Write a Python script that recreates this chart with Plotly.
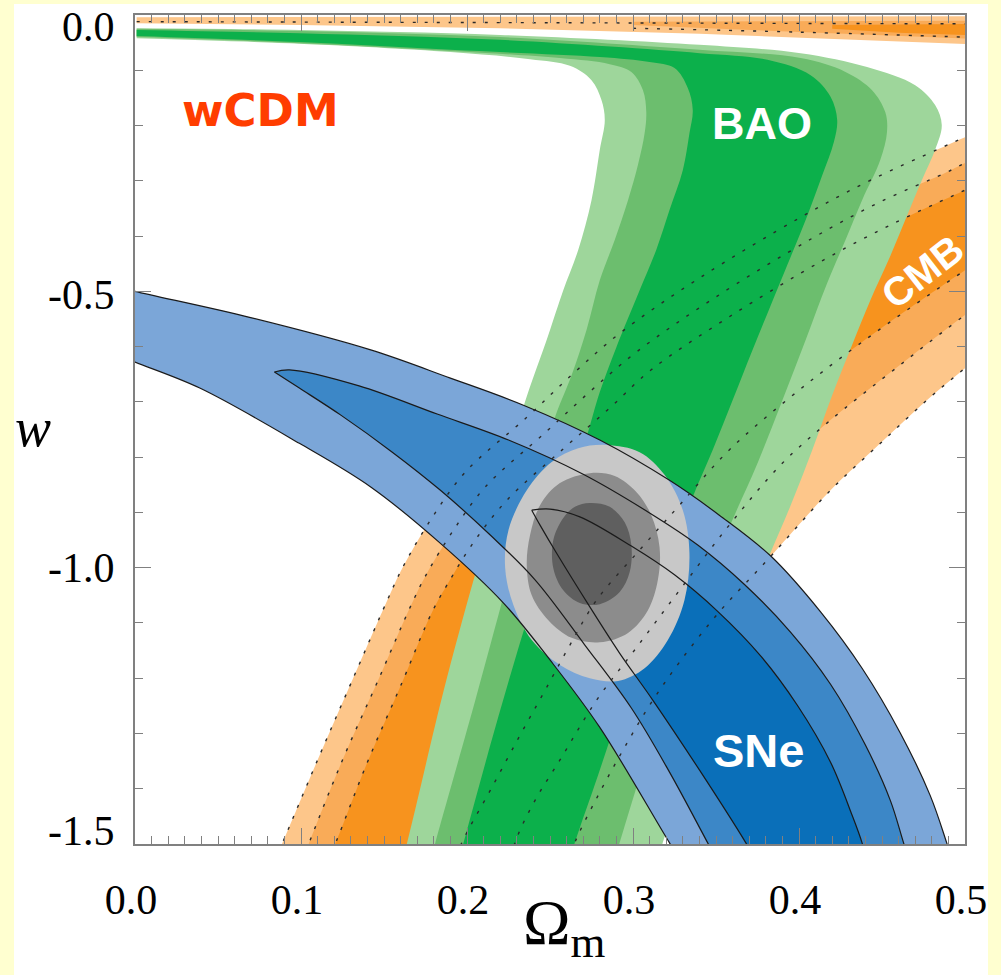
import plotly.graph_objects as go

# ---------------- tick values / labels ----------------
x_tick_vals = [0.0, 0.1, 0.2, 0.3, 0.4, 0.5]
x_tick_text = ["0.0", "0.1", "0.2", "0.3", "0.4", "0.5"]
y_tick_vals = [0.0, -0.5, -1.0, -1.5]
y_tick_text = ["0.0", "-0.5", "-1.0", "-1.5"]

# ---------------- CMB contour boundaries (Omega_m, w) ----------------
cmb_out_up_x = [0.078, 0.089, 0.110, 0.131, 0.152, 0.161, 0.178, 0.199, 0.236, 0.265, 0.292, 0.340, 0.401, 0.443, 0.483, 0.500, 0.521]
cmb_out_up_w = [-1.574, -1.497, -1.348, -1.203, -1.059, -1.001, -0.914, -0.827, -0.728, -0.646, -0.576, -0.476, -0.366, -0.299, -0.244, -0.221, -0.194]
cmb_mid_up_x = [0.095, 0.105, 0.125, 0.146, 0.166, 0.175, 0.191, 0.211, 0.247, 0.275, 0.302, 0.349, 0.408, 0.449, 0.488, 0.500, 0.521]
cmb_mid_up_w = [-1.574, -1.497, -1.348, -1.207, -1.070, -1.015, -0.936, -0.854, -0.756, -0.679, -0.610, -0.512, -0.404, -0.338, -0.286, -0.268, -0.241]
cmb_in_up_x = [0.110, 0.121, 0.140, 0.160, 0.179, 0.189, 0.204, 0.224, 0.258, 0.286, 0.311, 0.357, 0.415, 0.455, 0.492, 0.500, 0.521]
cmb_in_up_w = [-1.574, -1.497, -1.352, -1.214, -1.080, -1.026, -0.954, -0.878, -0.785, -0.711, -0.642, -0.548, -0.443, -0.380, -0.328, -0.317, -0.290]
cmb_in_dn_x = [0.521, 0.500, 0.437, 0.395, 0.358, 0.328, 0.304, 0.278, 0.262, 0.247, 0.232, 0.214, 0.197, 0.187]
cmb_in_dn_w = [-0.422, -0.462, -0.594, -0.691, -0.787, -0.887, -0.968, -1.059, -1.140, -1.222, -1.303, -1.403, -1.497, -1.574]
cmb_mid_dn_x = [0.521, 0.500, 0.461, 0.417, 0.389, 0.358, 0.328, 0.301, 0.278, 0.256, 0.241, 0.229, 0.223]
cmb_mid_dn_w = [-0.498, -0.543, -0.633, -0.738, -0.814, -0.923, -1.041, -1.149, -1.240, -1.348, -1.421, -1.497, -1.574]
cmb_out_dn_x = [0.521, 0.500, 0.477, 0.449, 0.419, 0.381, 0.352, 0.328, 0.310, 0.294, 0.279, 0.265, 0.256]
cmb_out_dn_w = [-0.588, -0.639, -0.697, -0.775, -0.860, -0.986, -1.080, -1.171, -1.249, -1.330, -1.412, -1.497, -1.574]

# thin CMB strip along w ~ 0
cmb_top1_x = [0.001, 0.52, 0.52, 0.431, 0.340, 0.220, 0.099, 0.001]
cmb_top1_w = [-0.004, -0.002, -0.055, -0.044, -0.034, -0.024, -0.018, -0.015]
cmb_top2_x = [0.30, 0.52, 0.52, 0.431, 0.36, 0.30]
cmb_top2_w = [-0.012, -0.010, -0.045, -0.035, -0.026, -0.018]
cmb_top3_x = [0.42, 0.52, 0.52, 0.46, 0.42]
cmb_top3_w = [-0.018, -0.016, -0.038, -0.032, -0.025]
cmb_top_row1_x = [0.001, 0.25, 0.50]
cmb_top_row1_w = [-0.012, -0.014, -0.016]
cmb_top_row2_x = [0.30, 0.40, 0.50]
cmb_top_row2_w = [-0.024, -0.031, -0.040]

# ---------------- BAO contour boundaries ----------------
bao_out_right_x = [0.001, 0.099, 0.220, 0.340, 0.401, 0.441, 0.470, 0.482, 0.486, 0.482, 0.474, 0.464, 0.454, 0.443, 0.432, 0.420, 0.408, 0.395, 0.381, 0.366, 0.351, 0.334, 0.318, 0.310]
bao_out_right_w = [-0.024, -0.027, -0.036, -0.054, -0.069, -0.094, -0.127, -0.163, -0.199, -0.244, -0.299, -0.371, -0.443, -0.516, -0.597, -0.688, -0.787, -0.887, -0.986, -1.095, -1.203, -1.348, -1.497, -1.565]
bao_mid_right_x = [0.001, 0.099, 0.220, 0.340, 0.401, 0.428, 0.444, 0.452, 0.453, 0.449, 0.438, 0.428, 0.417, 0.404, 0.390, 0.375, 0.358, 0.343, 0.328, 0.310, 0.292, 0.285]
bao_mid_right_w = [-0.025, -0.029, -0.040, -0.063, -0.078, -0.103, -0.136, -0.176, -0.212, -0.262, -0.335, -0.407, -0.485, -0.588, -0.697, -0.811, -0.927, -1.041, -1.158, -1.321, -1.497, -1.565]
bao_in_right_x = [0.001, 0.099, 0.220, 0.340, 0.381, 0.407, 0.419, 0.423, 0.421, 0.414, 0.404, 0.393, 0.383, 0.372, 0.360, 0.348, 0.336, 0.325, 0.315, 0.304, 0.293, 0.279, 0.265, 0.258]
bao_in_right_w = [-0.027, -0.033, -0.045, -0.069, -0.081, -0.109, -0.148, -0.190, -0.230, -0.290, -0.371, -0.452, -0.525, -0.606, -0.697, -0.787, -0.872, -0.965, -1.059, -1.153, -1.249, -1.375, -1.497, -1.565]
bao_out_left_x = [0.001, 0.099, 0.190, 0.238, 0.262, 0.275, 0.281, 0.283, 0.280, 0.275, 0.267, 0.258, 0.249, 0.234, 0.220, 0.204, 0.186, 0.164, 0.158]
bao_out_left_w = [-0.042, -0.052, -0.067, -0.080, -0.092, -0.118, -0.154, -0.190, -0.244, -0.335, -0.425, -0.498, -0.579, -0.709, -0.860, -1.022, -1.222, -1.497, -1.565]
bao_mid_left_x = [0.001, 0.099, 0.190, 0.256, 0.286, 0.299, 0.306, 0.308, 0.307, 0.303, 0.297, 0.289, 0.280, 0.272, 0.263, 0.253, 0.238, 0.223, 0.205, 0.181, 0.175]
bao_mid_left_w = [-0.040, -0.051, -0.065, -0.078, -0.089, -0.103, -0.136, -0.176, -0.214, -0.271, -0.335, -0.407, -0.480, -0.570, -0.652, -0.728, -0.878, -1.041, -1.240, -1.497, -1.565]
bao_in_left_x = [0.001, 0.099, 0.190, 0.280, 0.310, 0.325, 0.333, 0.336, 0.334, 0.330, 0.322, 0.314, 0.304, 0.290, 0.280, 0.272, 0.256, 0.238, 0.220, 0.198, 0.192]
bao_in_left_w = [-0.038, -0.049, -0.063, -0.076, -0.085, -0.096, -0.132, -0.172, -0.214, -0.281, -0.353, -0.425, -0.498, -0.601, -0.682, -0.764, -0.914, -1.077, -1.258, -1.497, -1.565]

# ---------------- SNe contour boundaries ----------------
sne_out_up_x = [-0.010, 0.000, 0.069, 0.142, 0.190, 0.234, 0.280, 0.322, 0.352, 0.383, 0.413, 0.438, 0.461, 0.479, 0.489, 0.496]
sne_out_up_w = [-0.492, -0.500, -0.547, -0.606, -0.657, -0.706, -0.769, -0.842, -0.905, -0.979, -1.080, -1.182, -1.299, -1.412, -1.498, -1.565]
sne_out_lo_x = [-0.010, 0.000, 0.039, 0.099, 0.142, 0.184, 0.222, 0.250, 0.280, 0.322, 0.336]
sne_out_lo_w = [-0.615, -0.628, -0.675, -0.775, -0.854, -0.956, -1.064, -1.167, -1.289, -1.498, -1.565]
sne_mid_up_x = [0.084, 0.093, 0.135, 0.182, 0.225, 0.270, 0.310, 0.339, 0.367, 0.395, 0.419, 0.440, 0.455, 0.463, 0.470]
sne_mid_up_w = [-0.646, -0.642, -0.671, -0.722, -0.769, -0.831, -0.901, -0.959, -1.030, -1.117, -1.211, -1.321, -1.421, -1.498, -1.565]
sne_mid_lo_x = [0.084, 0.099, 0.124, 0.155, 0.184, 0.214, 0.241, 0.271, 0.299, 0.322, 0.345, 0.357]
sne_mid_lo_w = [-0.646, -0.675, -0.724, -0.791, -0.860, -0.941, -1.022, -1.140, -1.254, -1.370, -1.498, -1.565]
sne_in_up_x = [0.239, 0.250, 0.268, 0.299, 0.325, 0.351, 0.377, 0.399, 0.419, 0.432, 0.438, 0.444]
sne_in_up_w = [-0.896, -0.894, -0.908, -0.961, -1.013, -1.079, -1.160, -1.249, -1.352, -1.448, -1.498, -1.565]
sne_in_lo_x = [0.239, 0.244, 0.254, 0.274, 0.292, 0.312, 0.340, 0.368, 0.381]
sne_in_lo_w = [-0.896, -0.923, -0.974, -1.071, -1.155, -1.240, -1.366, -1.498, -1.565]

# ---------------- combined constraints ----------------
comb_out_x = [0.284, 0.304, 0.319, 0.330, 0.334, 0.331, 0.321, 0.307, 0.291, 0.274, 0.256, 0.239, 0.228, 0.223, 0.225, 0.236, 0.251, 0.267]
comb_out_w = [-0.778, -0.791, -0.832, -0.896, -0.974, -1.059, -1.131, -1.182, -1.205, -1.200, -1.176, -1.131, -1.068, -1.001, -0.932, -0.860, -0.809, -0.784]
comb_mid_x = [0.274, 0.289, 0.302, 0.311, 0.316, 0.315, 0.309, 0.297, 0.280, 0.263, 0.249, 0.239, 0.236, 0.238, 0.244, 0.256]
comb_mid_w = [-0.829, -0.834, -0.863, -0.905, -0.963, -1.022, -1.077, -1.118, -1.135, -1.127, -1.095, -1.050, -0.995, -0.941, -0.887, -0.847]
comb_in_x = [0.274, 0.286, 0.295, 0.299, 0.298, 0.292, 0.280, 0.268, 0.258, 0.252, 0.252, 0.258, 0.265]
comb_in_w = [-0.883, -0.890, -0.918, -0.959, -1.008, -1.044, -1.066, -1.064, -1.041, -1.001, -0.950, -0.910, -0.890]

# ---------------- styling ----------------
ORANGE = ["#FDC68A", "#F9AB58", "#F7931E"]
GREEN = ["#9ED69B", "#6CBE6E", "#0CB04B"]
BLUE = ["#7BA6D8", "#3C87C7", "#0A6FB9"]
GREY = ["#C8C8C8", "#8C8C8C", "#5F5F5F"]
SERIF = "Liberation Serif, Times New Roman, serif"
SANS = "Liberation Sans, Arial, sans-serif"

fig = go.Figure()


def add_fill(xs, ys, color, smooth=True):
    fig.add_trace(go.Scatter(
        x=xs, y=ys, mode="lines", fill="toself", fillcolor=color,
        line=dict(width=0, color=color, shape="spline" if smooth else "linear", smoothing=1.0),
        hoverinfo="skip", showlegend=False))


def add_line(xs, ys, dash=None, width=1.2, color="black"):
    fig.add_trace(go.Scatter(
        x=xs, y=ys, mode="lines",
        line=dict(width=width, color=color, dash=dash, shape="spline", smoothing=1.0),
        hoverinfo="skip", showlegend=False))


# CMB fills
cmb_up = [(cmb_out_up_x, cmb_out_up_w), (cmb_mid_up_x, cmb_mid_up_w), (cmb_in_up_x, cmb_in_up_w)]
cmb_dn = [(cmb_out_dn_x, cmb_out_dn_w), (cmb_mid_dn_x, cmb_mid_dn_w), (cmb_in_dn_x, cmb_in_dn_w)]
for (ux, uw), (dx, dw), col in zip(cmb_up, cmb_dn, ORANGE):
    add_fill(ux + dx, uw + dw, col)
for (tx, tw), col in zip([(cmb_top1_x, cmb_top1_w), (cmb_top2_x, cmb_top2_w), (cmb_top3_x, cmb_top3_w)], ORANGE):
    add_fill(tx, tw, col, smooth=False)

# BAO fills
bao_right = [(bao_out_right_x, bao_out_right_w), (bao_mid_right_x, bao_mid_right_w), (bao_in_right_x, bao_in_right_w)]
bao_left = [(bao_out_left_x, bao_out_left_w), (bao_mid_left_x, bao_mid_left_w), (bao_in_left_x, bao_in_left_w)]
for (rx, rw), (lx, lw), col in zip(bao_right, bao_left, GREEN):
    add_fill(rx + lx[::-1], rw + lw[::-1], col)

# SNe fills
add_fill(sne_out_up_x + sne_out_lo_x[::-1], sne_out_up_w + sne_out_lo_w[::-1], BLUE[0])
add_fill(sne_mid_up_x + sne_mid_lo_x[1:][::-1], sne_mid_up_w + sne_mid_lo_w[1:][::-1], BLUE[1])
add_fill(sne_in_up_x + sne_in_lo_x[1:][::-1], sne_in_up_w + sne_in_lo_w[1:][::-1], BLUE[2])

# combined fills (closed curves)
for (cx, cw), col in zip([(comb_out_x, comb_out_w), (comb_mid_x, comb_mid_w), (comb_in_x, comb_in_w)], GREY):
    add_fill(cx + cx[:1], cw + cw[:1], col)

# SNe solid outlines
for xs, ys in [(sne_out_up_x, sne_out_up_w), (sne_out_lo_x, sne_out_lo_w),
               (sne_mid_up_x, sne_mid_up_w), (sne_mid_lo_x, sne_mid_lo_w),
               (sne_in_up_x, sne_in_up_w), (sne_in_lo_x, sne_in_lo_w)]:
    add_line(xs, ys, width=1.2, color="#1a1a1a")

# CMB dotted outlines
for xs, ys in cmb_up + cmb_dn + [(cmb_top_row1_x, cmb_top_row1_w), (cmb_top_row2_x, cmb_top_row2_w)]:
    add_line(xs, ys, dash="3px,9px", width=1.4, color="#2a2a2a")

annotations = []
for v, t, s in zip(y_tick_vals, y_tick_text, [-12, -4, 0, 13]):
    annotations.append(dict(x=0, xref="paper", y=v, yref="y", text=t, showarrow=False,
                            xanchor="right", yanchor="middle", xshift=-18, yshift=s,
                            font=dict(family=SERIF, size=42, color="black")))
annotations += [
    dict(x=-0.123, xref="paper", y=0.502, yref="paper", text="<i>w</i>", showarrow=False,
         xanchor="center", yanchor="middle", font=dict(family=SERIF, size=54, color="black")),
    dict(x=0.518, xref="paper", y=-0.049, yref="paper", text="Ω<sub>m</sub>", showarrow=False,
         xanchor="center", yanchor="top", font=dict(family=SERIF, size=64, color="black")),
    dict(x=0.0753, y=-0.172, xref="x", yref="y", text="<b>wCDM</b>", showarrow=False,
         font=dict(family="DejaVu Sans", size=45, color="#FF3D00")),
    dict(x=0.3777, y=-0.197, xref="x", yref="y", text="<b>BAO</b>", showarrow=False,
         font=dict(family=SANS, size=45, color="white")),
    dict(x=0.3753, y=-1.330, xref="x", yref="y", text="<b>SNe</b>", showarrow=False,
         font=dict(family=SANS, size=47, color="white")),
    dict(x=0.4741, y=-0.465, xref="x", yref="y", text="<b>CMB</b>", showarrow=False, textangle=-38,
         font=dict(family=SANS, size=40, color="white")),
]

AXC = "#808080"
fig.update_layout(
    width=1001, height=975,
    margin=dict(l=135, r=36, t=15, b=131),
    paper_bgcolor="#FFFFD0", plot_bgcolor="white",
    showlegend=False,
    xaxis=dict(range=[0, 0.5], tickmode="array", tickvals=x_tick_vals, ticktext=x_tick_text,
               ticks="inside", ticklen=16, tickwidth=1.2, tickcolor=AXC,
               showline=True, linecolor=AXC, linewidth=1.5, mirror="ticks",
               showgrid=False, zeroline=False,
               minor=dict(tickmode="linear", tick0=0, dtick=0.01, ticks="inside", ticklen=8,
                          tickwidth=1.2, tickcolor=AXC, showgrid=False),
               tickfont=dict(family=SERIF, size=42, color="black"),
               ticklabelstandoff=18, ticklabelshift=-4),
    yaxis=dict(range=[-1.5, 0], tickmode="array", tickvals=y_tick_vals, ticktext=y_tick_text,
               showticklabels=False,
               ticks="inside", ticklen=16, tickwidth=1.2, tickcolor=AXC,
               showline=True, linecolor=AXC, linewidth=1.5, mirror="ticks",
               showgrid=False, zeroline=False,
               minor=dict(tickmode="linear", tick0=0, dtick=0.1, ticks="inside", ticklen=8,
                          tickwidth=1.2, tickcolor=AXC, showgrid=False)),
    shapes=[dict(type="rect", xref="paper", yref="paper", x0=-0.1458, x1=1.0277, y0=-0.2, y1=1.0133,
                 fillcolor="white", line=dict(width=0), layer="below")],
    annotations=annotations,
)

fig.write_html("out.html", config={"displayModeBar": False},
               post_script="document.body.style.margin='0px';document.body.style.overflow='hidden';")
